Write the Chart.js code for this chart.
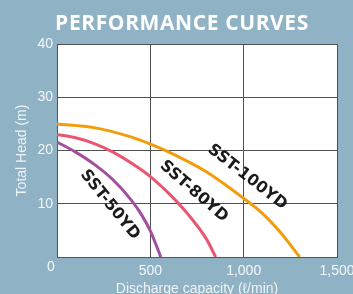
<!DOCTYPE html>
<html>
<head>
<meta charset="utf-8">
<script src="https://cdn.jsdelivr.net/npm/chart.js@4"></script>
<style>
html,body{margin:0;padding:0;background:#90b2c5;overflow:hidden}
#wrap{position:relative;width:353px;height:294px}
#ttl{position:absolute;left:0;top:8px;width:364px;text-align:center;color:#fff;font:bold 21px 'Open Sans',sans-serif;letter-spacing:0.6px}
canvas{position:absolute;left:0;top:0}
</style>
</head>
<body>
<div id="wrap">
<canvas id="perf" width="353" height="294" style="width:353px;height:294px"></canvas>
<div id="ttl">PERFORMANCE CURVES</div>
</div>
<script>
// 性能曲線 data (discharge ℓ/min → head m)
const models=['SST-50YD','SST-80YD','SST-100YD'];
const flow50=[0,100,200,300,400,450,500,556];
const head50=[21.6,19.7,17.4,14.5,10.6,8.1,4.9,0];
const flow80=[0,100,200,300,400,500,600,700,800,850];
const head80=[23,22.4,21.3,19.7,17.6,15.1,11.9,8.1,3.4,0];
const flow100=[0,200,400,500,600,800,1000,1100,1200,1300];
const head100=[25,24.3,22.5,21.2,19.7,16,11,8.2,4.5,0];
const xTicks=[0,500,1000,1500];
const yTicks=[0,10,20,30,40];
const colors=['#a14f9f','#e9566f','#f39c0a'];

const pts=(xs,ys)=>xs.map((v,i)=>({x:v,y:ys[i]}));
const series=[pts(flow50,head50),pts(flow80,head80),pts(flow100,head100)];

// curve name tags, placed in data coords
const tags=[
  {text:models[0],q:283,h:9.8,a:51},
  {text:models[1],q:733,h:12.3,a:41},
  {text:models[2],q:1019,h:15,a:38}
];

const curveLabels={id:'curveLabels',afterDatasetsDraw(ch){
  const {ctx,scales:{x,y}}=ch;
  ctx.save();
  ctx.fillStyle='#1b1b1b';
  ctx.font='bold 16px "DejaVu Sans"';
  ctx.textAlign='center';ctx.textBaseline='middle';
  tags.forEach(t=>{
    ctx.save();
    ctx.translate(x.getPixelForValue(t.q),y.getPixelForValue(t.h));
    ctx.rotate(t.a*Math.PI/180);
    ctx.fillText(t.text,0,0);
    ctx.restore();
  });
  // shared origin label
  ctx.font='14px "Liberation Sans"';
  ctx.fillStyle='#f4f7f9';
  ctx.fillText(String(xTicks[0]),x.left-6,y.bottom+10);
  ctx.restore();
}};

const grid={color:'#505050',lineWidth:1,drawTicks:false};
const border={display:true,color:'#555',width:1};
const tickFont={family:'Liberation Sans',size:14};

new Chart(document.getElementById('perf'),{
  type:'line',
  data:{datasets:series.map((d,i)=>({
    label:models[i],data:d,borderColor:colors[i],borderWidth:3,
    pointRadius:0,cubicInterpolationMode:'monotone',fill:false
  }))},
  options:{
    responsive:false,animation:false,
    layout:{padding:{top:44,right:16,left:0,bottom:0}},
    plugins:{legend:{display:false},tooltip:{enabled:false}},
    scales:{
      x:{type:'linear',min:0,max:1500,
        afterBuildTicks:s=>{s.ticks=xTicks.map(v=>({value:v}));},
        afterFit:s=>{s.height=37;s.paddingLeft=0;s.paddingRight=0;},
        grid,border,
        ticks:{color:'#f4f7f9',font:tickFont,padding:6,maxRotation:0,autoSkip:false,
          callback:v=>v===0?'':v.toLocaleString('en-US')},
        title:{display:true,text:'Discharge capacity (ℓ/min)',color:'#eef3f6',font:{family:'Liberation Sans',size:14},padding:{top:0,bottom:-4}}
      },
      y:{min:0,max:40,
        afterBuildTicks:s=>{s.ticks=yTicks.map(v=>({value:v}));},
        afterFit:s=>{s.width=57;},
        grid,border,
        ticks:{color:'#f4f7f9',font:tickFont,padding:4,callback:v=>v===0?'':v},
        title:{display:true,text:'Total Head (m)',color:'#eef3f6',font:{family:'Liberation Sans',size:14},padding:{top:14,bottom:0}}
      }
    }
  },
  plugins:[curveLabels,{id:'bg',beforeDraw(ch){const {ctx,chartArea:a}=ch;ctx.save();ctx.fillStyle='#fff';ctx.fillRect(a.left,a.top,a.right-a.left,a.bottom-a.top);ctx.restore();}}]
});
</script>
</body>
</html>
